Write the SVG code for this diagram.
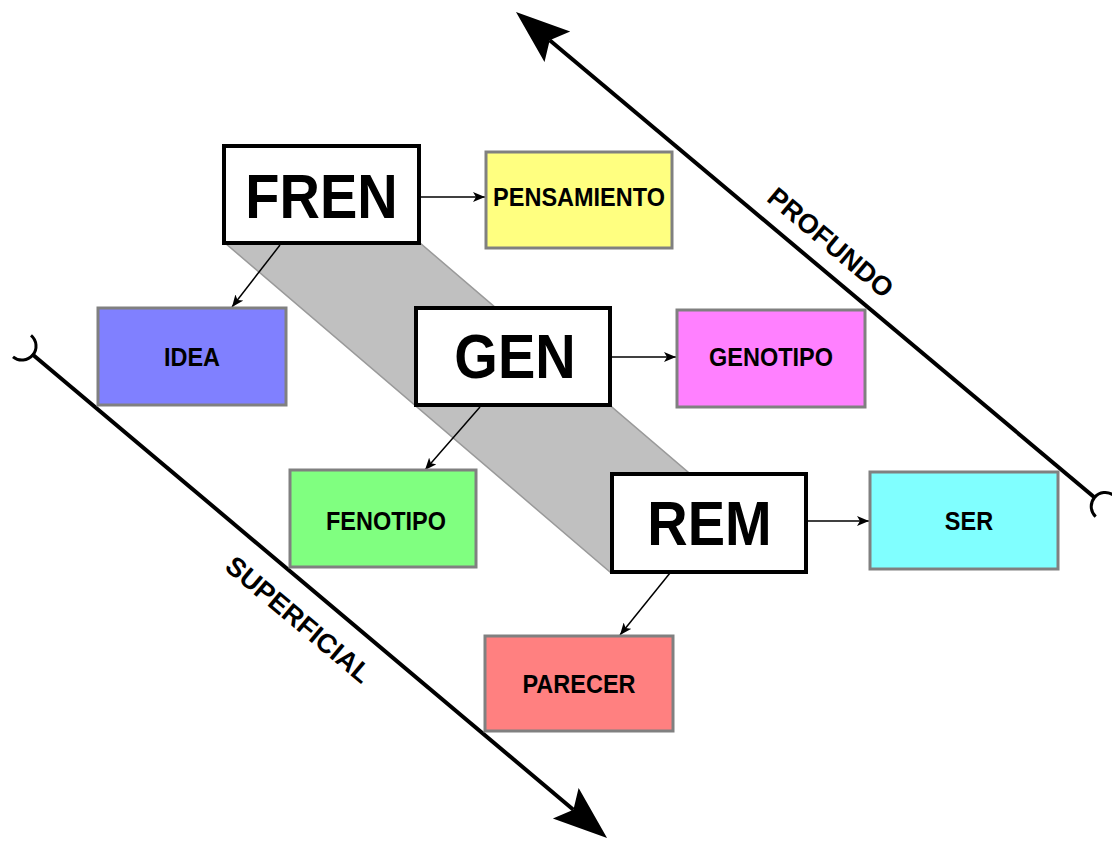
<svg xmlns="http://www.w3.org/2000/svg" width="1112" height="841" viewBox="0 0 1112 841">
  <style>
    .main rect { fill: #ffffff; stroke: #000000; stroke-width: 4; }
    .main text { font-family: "Liberation Sans", Arial, sans-serif; font-weight: bold; font-size: 56px; fill: #000; text-anchor: middle; }
    .leaf rect { stroke: #808080; stroke-width: 3; }
    .leaf text { font-family: "Liberation Sans", Arial, sans-serif; font-weight: bold; font-size: 23.5px; fill: #000; text-anchor: middle; }
    .link { stroke: #000; stroke-width: 1.5; fill: none; marker-end: url(#arrowSmall); }
    .axis { stroke: #000; stroke-width: 4; fill: none; marker-end: url(#arrowBig); }
    .hook { stroke: #000; stroke-width: 3; fill: none; }
    .axisLabel { font-family: "Liberation Sans", Arial, sans-serif; font-weight: bold; font-size: 27px; fill: #000; text-anchor: middle; }
  </style>
  <defs>
    <marker id="arrowSmall" markerUnits="userSpaceOnUse" markerWidth="14" markerHeight="10" refX="12" refY="5" orient="auto">
      <path d="M0,0 L12,5 L0,10 L3,5 z" fill="#000"/>
    </marker>
    <marker id="arrowBig" markerUnits="userSpaceOnUse" markerWidth="56" markerHeight="42" refX="10" refY="20" orient="auto">
      <path d="M0,0 L54,20 L0,40 L10,20 z" fill="#000"/>
    </marker>
  </defs>

  <rect width="1112" height="841" fill="#ffffff"/>

  <!-- shaded band running from FREN down to REM -->
  <polygon points="225,243 420,243 805,572 610,572" fill="#c0c0c0" stroke="#9a9a9a" stroke-width="1.5"/>

  <!-- depth axes -->
  <g id="axes">
    <path class="axis" d="M1094,497 L549.7,40.3"/>
    <path class="hook" d="M1113.7,495.3 A14,14 0 0 0 1095.7,516.7"/>
    <path class="axis" d="M32,354 L573.4,809.7"/>
    <path class="hook" d="M31,335.3 A14,14 0 0 1 13,356.8"/>
    <text class="axisLabel" x="831" y="252" transform="rotate(40 831 242)">PROFUNDO</text>
    <text class="axisLabel" x="299" y="629" transform="rotate(40 299 619)">SUPERFICIAL</text>
  </g>

  <!-- connectors -->
  <g id="connectors">
    <path class="link" d="M420,197 L485,197"/>
    <path class="link" d="M280,245 L232,307"/>
    <path class="link" d="M611,357 L676,357"/>
    <path class="link" d="M480,407 L425,470"/>
    <path class="link" d="M807,521 L869,521"/>
    <path class="link" d="M670,573 L620,635"/>
  </g>

  <!-- labels are drawn slightly tall: translate to the centre, stretch vertically -->
  <g id="fren" class="main">
    <rect x="224" y="146" width="195" height="97"/>
    <text transform="translate(321.5,195.5) scale(1,1.12)" y="20">FREN</text>
  </g>
  <g id="gen" class="main">
    <rect x="416" y="308" width="194" height="97"/>
    <text transform="translate(515,356) scale(1,1.12)" y="20">GEN</text>
  </g>
  <g id="rem" class="main">
    <rect x="612" y="474" width="194" height="98"/>
    <text transform="translate(709.5,522.5) scale(1,1.12)" y="20">REM</text>
  </g>

  <g id="pensamiento" class="leaf">
    <rect x="486" y="152" width="186" height="96" fill="#ffff80"/>
    <text transform="translate(579,197) scale(1,1.12)" y="8.4">PENSAMIENTO</text>
  </g>
  <g id="idea" class="leaf">
    <rect x="98" y="308" width="188" height="97" fill="#8080ff"/>
    <text transform="translate(192,357) scale(1,1.12)" y="8.4">IDEA</text>
  </g>
  <g id="genotipo" class="leaf">
    <rect x="677" y="310" width="188" height="97" fill="#ff80ff"/>
    <text transform="translate(771,357) scale(1,1.12)" y="8.4">GENOTIPO</text>
  </g>
  <g id="fenotipo" class="leaf">
    <rect x="290" y="470" width="186" height="97" fill="#80ff80"/>
    <text transform="translate(386,521) scale(1,1.12)" y="8.4">FENOTIPO</text>
  </g>
  <g id="ser" class="leaf">
    <rect x="870" y="472" width="188" height="97" fill="#80ffff"/>
    <text transform="translate(969,521) scale(1,1.12)" y="8.4">SER</text>
  </g>
  <g id="parecer" class="leaf">
    <rect x="485" y="636" width="188" height="95" fill="#ff8080"/>
    <text transform="translate(579,684) scale(1,1.12)" y="8.4">PARECER</text>
  </g>
</svg>
